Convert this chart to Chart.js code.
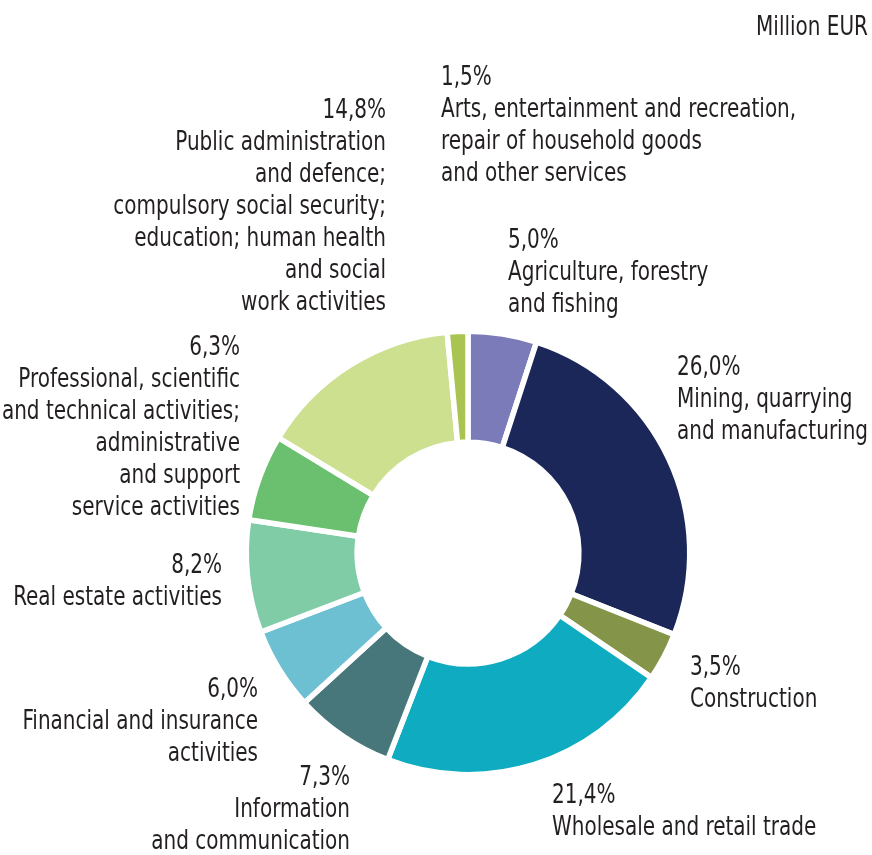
<!DOCTYPE html>
<html lang="en">
<head>
  <meta charset="UTF-8">
  <title>Gross value added by activity</title>
  <script src="https://cdn.jsdelivr.net/npm/chart.js@4.4.0/dist/chart.umd.min.js"></script>
  <style>
    html, body { margin: 0; padding: 0; background: #fff; }
    .chart-wrap { width: 872px; height: 855px; position: relative; }
  </style>
</head>
<body>
  <div class="chart-wrap">
    <canvas id="gva-chart"></canvas>
  </div>

  <script>
    // data (clockwise from 12 o'clock)
    const categories = [
      'Agriculture, forestry and fishing',
      'Mining, quarrying and manufacturing',
      'Construction',
      'Wholesale and retail trade',
      'Information and communication',
      'Financial and insurance activities',
      'Real estate activities',
      'Professional, scientific and technical activities; administrative and support service activities',
      'Public administration and defence; compulsory social security; education; human health and social work activities',
      'Arts, entertainment and recreation, repair of household goods and other services'
    ];
    const shares = [5.0, 26.0, 3.5, 21.4, 7.3, 6.0, 8.2, 6.3, 14.8, 1.5];
    const unitLabel = 'Million EUR';

    // label text as it is wrapped in the picture
    const labelLines = [
      ['Agriculture, forestry', 'and fishing'],
      ['Mining, quarrying', 'and manufacturing'],
      ['Construction'],
      ['Wholesale and retail trade'],
      ['Information', 'and communication'],
      ['Financial and insurance', 'activities'],
      ['Real estate activities'],
      ['Professional, scientific', 'and technical activities;', 'administrative', 'and support', 'service activities'],
      ['Public administration', 'and defence;', 'compulsory social security;', 'education; human health', 'and social', 'work activities'],
      ['Arts, entertainment and recreation,', 'repair of household goods', 'and other services']
    ];

    const colors = ['#7b7bba', '#1c2759', '#84954a', '#0eabc1', '#47777b',
                    '#6cc0d2', '#80cca6', '#6bc070', '#cce08f', '#a9c451'];

    // where each label block sits (x anchor, first baseline, alignment)
    const labelLayout = [
      { x: 508, y: 248, align: 'left' },
      { x: 677, y: 375, align: 'left' },
      { x: 690, y: 675, align: 'left' },
      { x: 552, y: 803, align: 'left' },
      { x: 350, y: 785, align: 'right' },
      { x: 258, y: 697, align: 'right' },
      { x: 222, y: 573, align: 'right' },
      { x: 240, y: 355, align: 'right' },
      { x: 386, y: 118, align: 'right' },
      { x: 441, y: 85, align: 'left' }
    ];

    // no narrow font installed, so squeeze the condensed one a bit
    const FONT = '26px "DejaVu Sans Condensed", "Liberation Sans Narrow", sans-serif';
    const SQUEEZE = 0.855;
    const LINE_H = 32;
    const TEXT_COLOR = '#231f20';

    const fmt = v => v.toFixed(1).replace('.', ',') + '%';

    function drawText(ctx, txt, x, y, align) {
      ctx.save();
      ctx.translate(x, y);
      ctx.scale(SQUEEZE, 1);
      ctx.textAlign = align;
      ctx.fillText(txt, 0, 0);
      ctx.restore();
    }

    const labelPlugin = {
      id: 'sliceLabels',
      afterDraw(chart) {
        const ctx = chart.ctx;
        ctx.save();
        ctx.font = FONT;
        ctx.fillStyle = TEXT_COLOR;
        ctx.textBaseline = 'alphabetic';

        drawText(ctx, unitLabel, 868, 35, 'right');

        labelLayout.forEach((pos, i) => {
          const lines = [fmt(shares[i])].concat(labelLines[i]);
          lines.forEach((txt, k) => {
            drawText(ctx, txt, pos.x, pos.y + k * LINE_H, pos.align);
          });
        });
        ctx.restore();
      }
    };

    const ctx = document.getElementById('gva-chart').getContext('2d');
    const gvaChart = new Chart(ctx, {
      type: 'doughnut',
      data: {
        labels: categories,
        datasets: [{
          data: shares,
          backgroundColor: colors,
          borderColor: '#ffffff',
          borderWidth: 5.5
        }]
      },
      options: {
        responsive: true,
        maintainAspectRatio: false,
        animation: false,
        cutout: '50%',
        rotation: 0,
        layout: {
          padding: { left: 243.5, right: 179.5, top: 328.5, bottom: 77.5 }
        },
        plugins: {
          legend: { display: false },
          tooltip: { enabled: false }
        }
      },
      plugins: [labelPlugin]
    });
  </script>
</body>
</html>
